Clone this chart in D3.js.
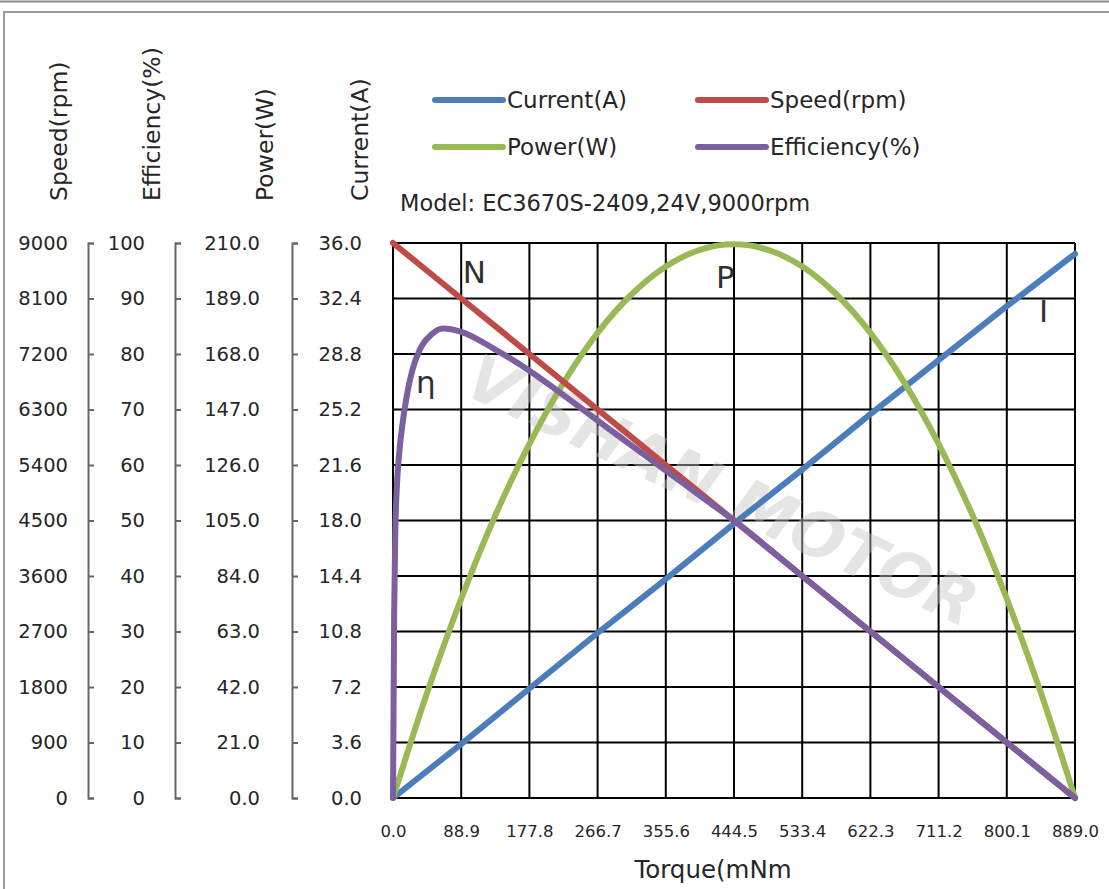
<!DOCTYPE html>
<html>
<head>
<meta charset="utf-8">
<script src="https://cdn.jsdelivr.net/npm/d3@7"></script>
<style>
body { margin: 0; background: #fff; }
svg text { font-family: "DejaVu Sans", sans-serif; fill: #262626; }
</style>
</head>
<body>
<svg id="chart" width="1109" height="889"></svg>
<script>
// torque ticks (mNm)
var torqueTicks = [0, 88.9, 177.8, 266.7, 355.6, 444.5, 533.4, 622.3, 711.2, 800.1, 889.0];

// speed and current read at each torque tick
var speed   = [9000, 8100, 7200, 6300, 5400, 4500, 3600, 2700, 1800, 900, 0];
var current = [0, 3.5, 7.1, 10.7, 14.2, 17.8, 21.3, 24.9, 28.4, 31.9, 35.3];

// power read every half grid
var powerTorque = [0, 44.45, 88.9, 133.35, 177.8, 222.25, 266.7, 311.15, 355.6, 400.05, 444.5,
                   488.95, 533.4, 577.85, 622.3, 666.75, 711.2, 755.65, 800.1, 844.55, 889.0];
var power = [0, 39.8, 75.4, 106.9, 134.0, 157.1, 176.0, 190.6, 201.1, 207.4, 209.5,
             207.4, 201.1, 190.6, 176.0, 157.1, 134.0, 106.9, 75.4, 39.8, 0];

// efficiency, denser near the start where it climbs
var effTorque  = [0, 1.5, 3, 5, 8, 12, 18, 25, 35, 50, 65, 88.9, 133.35, 177.8, 222.25, 266.7, 311.15, 355.6, 400.05, 444.5, 533.4, 622.3, 711.2, 800.1, 889.0];
var efficiency = [0, 33, 48, 56, 62, 67, 72.5, 77, 80.8, 83.5, 84.6, 84.0, 80.8, 77.0, 72.6, 68.0, 63.5, 59.0, 54.5, 50.0, 40, 30, 20, 10, 0];

// left axes tick values
var speedTicks   = [0, 900, 1800, 2700, 3600, 4500, 5400, 6300, 7200, 8100, 9000];
var effTicks     = [0, 10, 20, 30, 40, 50, 60, 70, 80, 90, 100];
var powerTicks   = [0, 21, 42, 63, 84, 105, 126, 147, 168, 189, 210];
var currentTicks = [0, 3.6, 7.2, 10.8, 14.4, 18.0, 21.6, 25.2, 28.8, 32.4, 36.0];

var seriesNames  = ["Current(A)", "Speed(rpm)", "Power(W)", "Efficiency(%)"];
var seriesColors = ["#4a7dba", "#be4b48", "#98b954", "#7b5f9f"];

// curve labels
var marks = [
    {t: "N", torque: 91,  axis: "speed",   v: 8350},
    {t: "P", torque: 421, axis: "power",   v: 193},
    {t: "I", torque: 842, axis: "current", v: 30.9},
    {t: "η", torque: 30,  axis: "eff",     v: 73}
];

var svg = d3.select("#chart");

// frame
svg.append("line").attr("x1", 0).attr("x2", 1109).attr("y1", 1.5).attr("y2", 1.5)
    .attr("stroke", "#8c8c8c").attr("stroke-width", 2);
svg.append("rect").attr("x", 4).attr("y", 12).attr("width", 1200).attr("height", 1000)
    .attr("fill", "#fff").attr("stroke", "#9a9a9a").attr("stroke-width", 2);

var plotL = 393, plotR = 1075, plotT = 243, plotB = 798;

var x = d3.scaleLinear().domain([0, 889]).range([plotL, plotR]);
var ySpeed   = d3.scaleLinear().domain([0, 9000]).range([plotB, plotT]);
var yEff     = d3.scaleLinear().domain([0, 100]).range([plotB, plotT]);
var yPower   = d3.scaleLinear().domain([0, 210]).range([plotB, plotT]);
var yCurrent = d3.scaleLinear().domain([0, 36]).range([plotB, plotT]);
var yOf = {speed: ySpeed, eff: yEff, power: yPower, current: yCurrent};

// grid
var grid = svg.append("g");
grid.selectAll(".vg").data(torqueTicks).enter().append("line")
    .attr("x1", function(d) { return x(d); }).attr("x2", function(d) { return x(d); })
    .attr("y1", plotT).attr("y2", plotB)
    .attr("stroke", "#000").attr("stroke-width", 2);
grid.selectAll(".hg").data(currentTicks).enter().append("line")
    .attr("x1", plotL).attr("x2", plotR)
    .attr("y1", function(d) { return yCurrent(d); }).attr("y2", function(d) { return yCurrent(d); })
    .attr("stroke", "#000").attr("stroke-width", 2);

// watermark
svg.append("text")
    .attr("transform", "translate(720,495) rotate(25)")
    .attr("text-anchor", "middle")
    .attr("dominant-baseline", "middle")
    .style("font-size", "63px").style("font-style", "italic").style("font-weight", "bold")
    .style("fill", "#c6c6c6").style("opacity", 0.45)
    .text("VISHAN MOTOR");

// left axes
function leftAxis(scale, ticks, fmt, lineX, pad, showLine) {
    var g = svg.append("g").attr("transform", "translate(" + lineX + ",0)")
        .call(d3.axisLeft(scale).tickValues(ticks).tickFormat(fmt)
            .tickSizeInner(showLine ? -6 : 0).tickSizeOuter(showLine ? -6 : 0).tickPadding(pad));
    g.select(".domain").attr("stroke", showLine ? "#666" : "none").attr("stroke-width", 2);
    g.selectAll(".tick line").attr("stroke", "#666").attr("stroke-width", 2);
    g.selectAll(".tick text").style("font-size", "19.5px").style("font-family", "DejaVu Sans").attr("fill", "#262626");
    return g;
}
leftAxis(ySpeed, speedTicks, d3.format("d"), 88, 20, true);
leftAxis(yEff, effTicks, d3.format("d"), 175, 30, true);
leftAxis(yPower, powerTicks, d3.format(".1f"), 292, 32, true);
leftAxis(yCurrent, currentTicks, d3.format(".1f"), plotL, 31, false);

// bottom axis
var xg = svg.append("g").attr("transform", "translate(0," + plotB + ")")
    .call(d3.axisBottom(x).tickValues(torqueTicks).tickFormat(d3.format(".1f")).tickSize(0).tickPadding(27));
xg.select(".domain").remove();
xg.selectAll(".tick text").style("font-size", "16.5px").style("font-family", "DejaVu Sans").attr("fill", "#262626");

// axis titles
var titles = [
    {t: "Speed(rpm)", x: 67},
    {t: "Efficiency(%)", x: 160},
    {t: "Power(W)", x: 273},
    {t: "Current(A)", x: 368}
];
svg.selectAll(".ytitle").data(titles).enter().append("text")
    .attr("transform", function(d) { return "translate(" + d.x + ",201) rotate(-90)"; })
    .style("font-size", "23.5px")
    .text(function(d) { return d.t; });

svg.append("text").attr("x", 713).attr("y", 878).attr("text-anchor", "middle")
    .style("font-size", "24.5px").text("Torque(mNm");

// series
var line = d3.line().curve(d3.curveMonotoneX);
var series = [
    {pts: torqueTicks.map(function(t, i) { return [x(t), yCurrent(current[i])]; }), c: seriesColors[0]},
    {pts: powerTorque.map(function(t, i) { return [x(t), yPower(power[i])]; }), c: seriesColors[2]},
    {pts: torqueTicks.map(function(t, i) { return [x(t), ySpeed(speed[i])]; }), c: seriesColors[1]},
    {pts: effTorque.map(function(t, i) { return [x(t), yEff(efficiency[i])]; }), c: seriesColors[3]}
];
svg.selectAll(".series").data(series).enter().append("path")
    .attr("d", function(d) { return line(d.pts); })
    .attr("fill", "none")
    .attr("stroke", function(d) { return d.c; })
    .attr("stroke-width", 6)
    .attr("stroke-linejoin", "round")
    .attr("stroke-linecap", "round");

// curve letters
svg.selectAll(".mark").data(marks).enter().append("text")
    .attr("x", function(d) { return x(d.torque); })
    .attr("y", function(d) { return yOf[d.axis](d.v); })
    .style("font-size", "31px")
    .style("fill", "#303030")
    .text(function(d) { return d.t; });

// legend
var legendPos = [[432, 100], [695, 100], [432, 147], [695, 147]];
var lg = svg.selectAll(".lg").data(seriesNames).enter().append("g")
    .attr("transform", function(d, i) { return "translate(" + legendPos[i][0] + "," + legendPos[i][1] + ")"; });
lg.append("line").attr("x1", 3).attr("x2", 71).attr("y1", 0).attr("y2", 0)
    .attr("stroke", function(d, i) { return seriesColors[i]; })
    .attr("stroke-width", 6).attr("stroke-linecap", "round");
lg.append("text").attr("x", 75).attr("y", 8)
    .style("font-size", "23px")
    .text(function(d) { return d; });

svg.append("text").attr("x", 400).attr("y", 211)
    .style("font-size", "22.5px")
    .text("Model: EC3670S-2409,24V,9000rpm");
</script>
</body>
</html>
